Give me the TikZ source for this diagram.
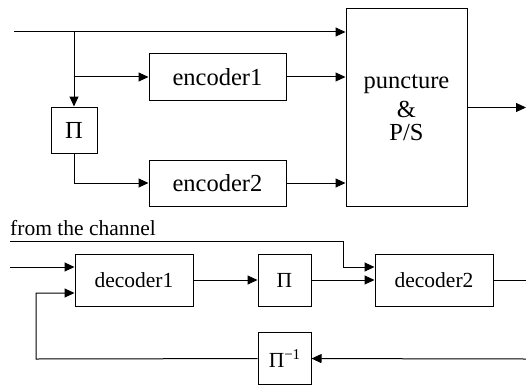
\documentclass[tikz,border=0pt]{standalone}
\usepackage{fontspec}
\setmainfont{Liberation Serif}
\usetikzlibrary{arrows.meta}

\tikzset{
    POINT/.style={coordinate},
    BOX/.style={draw=black, shape=rectangle, line width=1pt, inner sep=0mm,
        font={\fontsize{21.5}{24}\selectfont}},
    BIG_TEXT/.style={font={\fontsize{24.5}{26}\selectfont}},
    ENC_BOX/.style={BOX, BIG_TEXT, minimum width=137pt, minimum height=46pt},
    PI_BOX/.style={BOX, BIG_TEXT, minimum width=46pt, minimum height=46pt},
    MUX_BOX/.style={BOX, BIG_TEXT, minimum width=121pt, minimum height=197pt, align=center},
    DEC_BOX/.style={BOX, minimum width=118pt, minimum height=52pt},
    SMALL_BOX/.style={BOX, minimum width=53pt, minimum height=52pt},
    EDGE/.style={draw=black, line width=1pt},
    ARROW/.style={EDGE, -{Triangle[length=10pt, width=9pt]}}
}
\newcommand{\invsup}{\raisebox{8pt}{\fontsize{15}{15}\selectfont −1}}
\pgfdeclarelayer{edgelayer}
\pgfdeclarelayer{nodelayer}
\pgfsetlayers{edgelayer,nodelayer,main}

\begin{document}
\begin{tikzpicture}[x=1pt, y=-1pt]
    \useasboundingbox (0, 0) rectangle (526, 385);
    \begin{pgfonlayer}{nodelayer}
        % turbo encoder
        \node [POINT] (1) at (14, 32) {};
        \node [POINT] (2) at (74, 32) {};
        \node [PI_BOX] (3) at (74, 130) {Π};
        \node [ENC_BOX] (4) at (217.5, 77) {encoder1};
        \node [ENC_BOX] (5) at (217.5, 183) {encoder2};
        \node [MUX_BOX] (6) at (406.5, 107.5) {puncture\\[3pt]\&\\[-3pt]P/S};
        \node [POINT] (7) at (526, 107.5) {};
        % iterative decoder
        \node [anchor=base west, inner sep=0mm,
            font={\fontsize{21.5}{24}\selectfont}] (8) at (10, 235) {from the channel};
        \node [POINT] (9) at (10, 241) {};
        \node [POINT] (10) at (343, 241) {};
        \node [POINT] (11) at (10, 267) {};
        \node [DEC_BOX] (12) at (134, 280) {decoder1};
        \node [SMALL_BOX] (13) at (284.5, 280) {Π};
        \node [DEC_BOX] (14) at (434, 280) {decoder2};
        \node [POINT] (15) at (526, 280) {};
        \node [SMALL_BOX] (16) at (284.5, 358.5) {Π\invsup};
        \node [POINT] (17) at (526, 359) {};
        \node [POINT] (18) at (36, 359) {};
    \end{pgfonlayer}
    \begin{pgfonlayer}{edgelayer}
        \draw[ARROW] (1) to (1 -| 6.west);
        \draw[ARROW] (2) to (3);
        \draw[ARROW] (2 |- 4) to (4);
        \draw[ARROW] (3) |- (5);
        \draw[ARROW] (4) to (4 -| 6.west);
        \draw[ARROW] (5) to (5 -| 6.west);
        \draw[ARROW] (6) to (7);
        \draw[ARROW] (9) -- (10) |- ([yshift=13pt]14.west);
        \draw[ARROW] (11) to (11 -| 12.west);
        \draw[ARROW] (12) to (13);
        \draw[ARROW] (13) to (14);
        \draw[EDGE] (14) to (15);
        \draw[ARROW] (17) to (16);
        \draw[ARROW] (16) -- (18) |- ([yshift=-13pt]12.west);
    \end{pgfonlayer}
\end{tikzpicture}
\end{document}
